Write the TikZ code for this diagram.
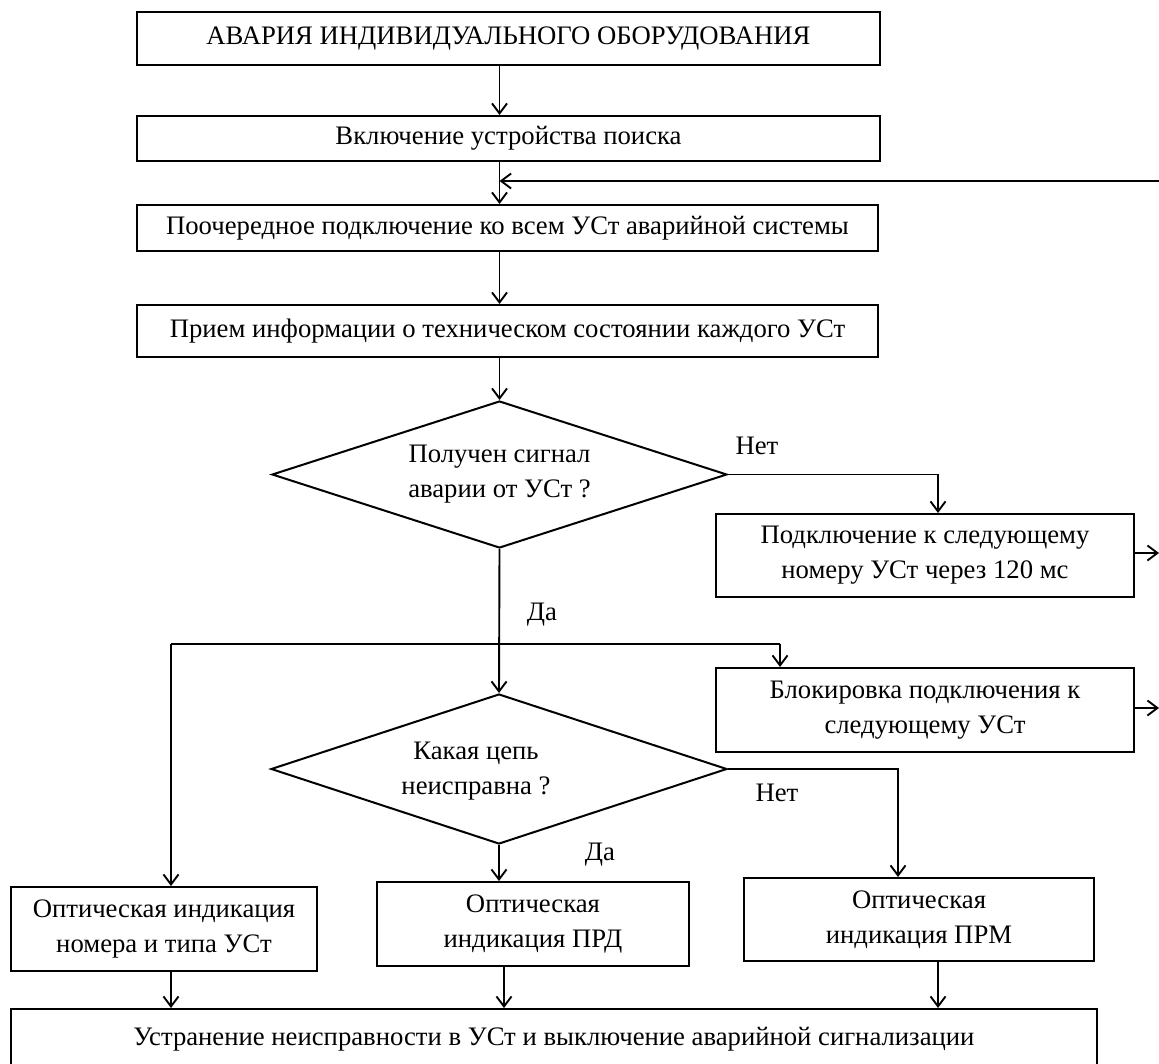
\documentclass[tikz,border=0pt]{standalone}
\usepackage{fontspec}
\setmainfont{Liberation Serif}
\usetikzlibrary{arrows.meta,shapes.geometric,calc}
\begin{document}
\begin{tikzpicture}[x=1pt,y=-1pt,
  every node/.style={font=\fontsize{26.7}{35}\selectfont},
  box/.style={draw, line width=2pt, inner sep=0pt, align=center},
  dia/.style={draw, diamond, line width=2pt, inner sep=0pt, align=center, shape aspect=3.1},
  conn/.style={line width=1.9pt},
  arr/.style={conn, -{Straight Barb[length=10pt,width=15pt]}},
  lbl/.style={inner sep=0pt, align=center}]
\useasboundingbox (0,0) rectangle (1159,1063);
\fill[white] (0,0) rectangle (1159,1063);
\clip (0,0) rectangle (1159,1063);

% boxes
\node[box, minimum width=743pt, minimum height=53pt] (b1) at (508.5,38.5) {АВАРИЯ ИНДИВИДУАЛЬНОГО ОБОРУДОВАНИЯ};
\node[box, minimum width=743pt, minimum height=45pt] (b2) at (508.5,138.5) {Включение устройства поиска};
\node[box, minimum width=741pt, minimum height=46pt] (b3) at (507.5,228) {Поочередное подключение ко всем УСт аварийной системы};
\node[box, minimum width=741pt, minimum height=52pt] (b4) at (507.5,331) {Прием информации о техническом состоянии каждого УСт};
\node[dia, minimum width=455pt, minimum height=147pt] (d1) at (499.5,474.5) {Получен сигнал\\аварии от УСт ?};
\node[lbl] (no1) at (757,446) {Нет};
\node[box, minimum width=418pt, minimum height=83pt] (b5) at (925,555.5) {Подключение к следующему\\номеру УСт через 120 мс};
\node[lbl] (yes1) at (542,615) {Да};
\node[box, minimum width=418pt, minimum height=84pt] (b6) at (925,710) {Блокировка подключения к\\следующему УСт};
\node[dia, minimum width=456pt, minimum height=150pt] (d2) at (499,769) {};
\node[lbl] (d2t) at (476,771) {Какая цепь\\неисправна ?};
\node[lbl] (no2) at (777,793) {Нет};
\node[lbl] (yes2) at (600,855) {Да};
\node[box, minimum width=306pt, minimum height=84pt] (b7) at (164,929) {Оптическая индикация\\номера и типа УСт};
\node[box, minimum width=312pt, minimum height=84pt] (b8) at (533,924) {Оптическая\\индикация ПРД};
\node[box, minimum width=350pt, minimum height=83pt] (b9) at (919,919.5) {Оптическая\\индикация ПРМ};
\node[box, minimum width=1086pt, minimum height=60pt] (fin) at (554,1039) {Устранение неисправности в УСт и выключение аварийной сигнализации};

% coordinates
\coordinate (fb) at (1159,181);
\coordinate (c1) at (938,474.5);
\coordinate (o5) at (1159,553);
\coordinate (jL) at (171,644);
\coordinate (jR) at (780,644);
\coordinate (o6) at (1159,708);
\coordinate (c2) at (898,769);
\coordinate (x8) at (504,1000);
\coordinate (x9) at (938,1000);

% connectors
\draw[arr] (b1.south -| d1.north) -- (b2.north -| d1.north);
\draw[arr] (b2.south -| d1.north) -- (b3.north -| d1.north);
\draw[arr] (fb) -- (fb -| d1.north);
\draw[arr] (b3.south -| d1.north) -- (b4.north -| d1.north);
\draw[arr] (b4.south -| d1.north) -- (d1.north);
\draw[arr] (d1.east) -- (c1) -- (c1 |- b5.north);
\draw[arr] (b5.east |- o5) -- (o5);
\draw[arr] (d1.south) -- (d2.north);
\draw[conn] (jL) -- (jR);
\draw[arr] (jR) -- (jR |- b6.north);
\draw[arr] (jL) -- (jL |- b7.north);
\draw[arr] (b6.east |- o6) -- (o6);
\draw[arr] (d2.east) -- (c2) -- (c2 |- b9.north);
\draw[arr] (d2.south) -- (d2.south |- b8.north);
\draw[arr] (b7.south -| jL) -- (fin.north -| jL);
\draw[arr] (b8.south -| x8) -- (fin.north -| x8);
\draw[arr] (b9.south -| x9) -- (fin.north -| x9);
\end{tikzpicture}
\end{document}
